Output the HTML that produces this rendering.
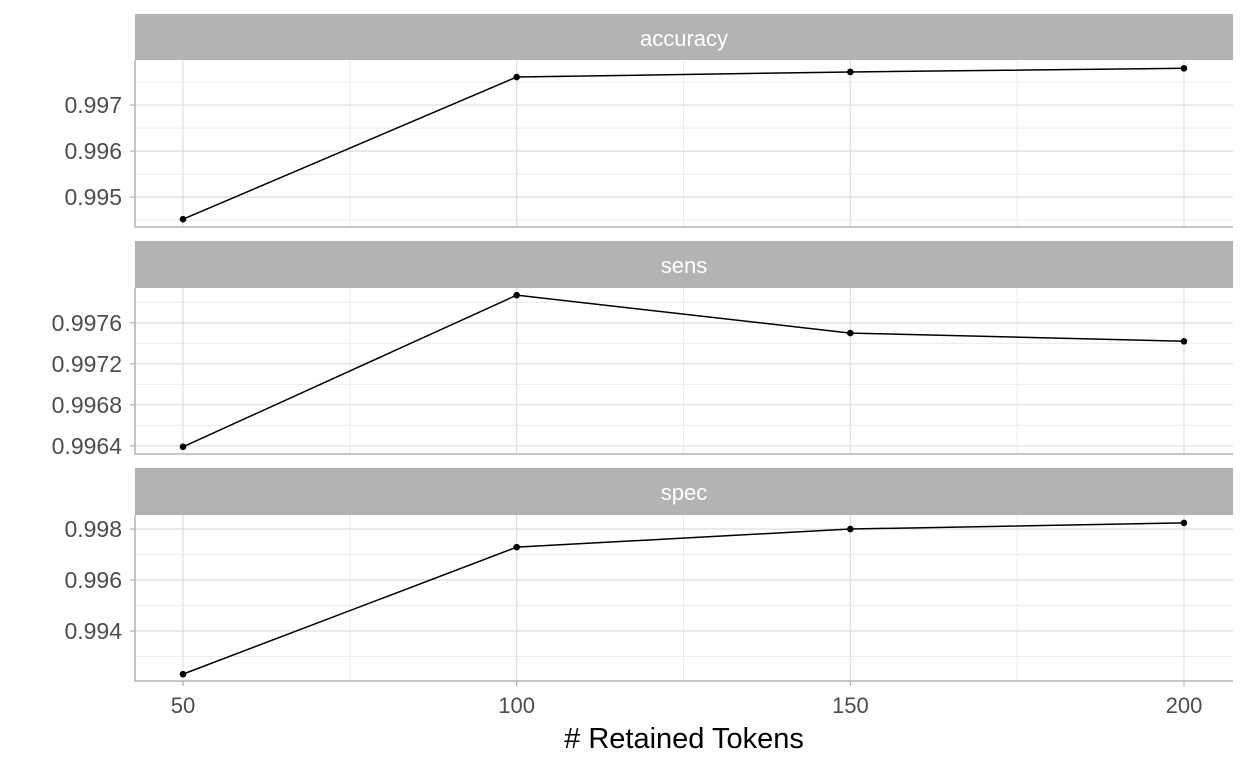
<!DOCTYPE html>
<html><head><meta charset="utf-8"><style>
html,body{margin:0;padding:0;background:#fff;}
svg{display:block;font-family:"Liberation Sans",Arial,sans-serif;}
</style></head><body>
<svg id="chart" width="1248" height="768"></svg>
<script>
const xValues = [50, 100, 150, 200];
const panelNames = ["accuracy", "sens", "spec"];
const accuracyValues = [0.99452, 0.99761, 0.99772, 0.9978];
const sensValues = [0.99639, 0.99787, 0.9975, 0.99742];
const specValues = [0.99231, 0.99729, 0.998, 0.99824];
const accuracyTicks = [0.995, 0.996, 0.997];
const sensTicks = [0.9964, 0.9968, 0.9972, 0.9976];
const specTicks = [0.994, 0.996, 0.998];
const xTicks = [50, 100, 150, 200];

const NS = "http://www.w3.org/2000/svg";
const svg = document.getElementById("chart");
function mk(tag, attrs, parent) {
  const e = document.createElementNS(NS, tag);
  for (const k in attrs) e.setAttribute(k, attrs[k]);
  (parent || svg).appendChild(e);
  return e;
}
const X0 = 135, X1 = 1233;
const xScale = v => 183 + (v - 50) * (1184 - 183) / 150;
const panels = [
  {name: panelNames[0], vals: accuracyValues, ticks: accuracyTicks, dec: 3, stripTop: 14, top: 60, bot: 227, dmin: 0.99435, dmax: 0.99798},
  {name: panelNames[1], vals: sensValues, ticks: sensTicks, dec: 4, stripTop: 241, top: 288, bot: 454, dmin: 0.99632, dmax: 0.99794},
  {name: panelNames[2], vals: specValues, ticks: specTicks, dec: 3, stripTop: 468, top: 515, bot: 681, dmin: 0.99204, dmax: 0.99855}
];
panels.forEach((p, pi) => {
  const g = mk("g", {});
  
  
  const y = v => p.bot - (v - p.dmin) / (p.dmax - p.dmin) * (p.bot - p.top);
  const step = p.ticks[1] - p.ticks[0];
  for (let i = -1; i < p.ticks.length; i++) {
    const v = p.ticks[0] + step * (i + 0.5);
    const yy = y(v);
    if (yy > p.top && yy < p.bot) mk("line", {x1: X0, x2: X1, y1: yy, y2: yy, stroke: "#ececec", "stroke-width": 1}, g);
  }
  [75, 125, 175].forEach(v => mk("line", {x1: xScale(v), x2: xScale(v), y1: p.top, y2: p.bot, stroke: "#ececec", "stroke-width": 1}, g));
  p.ticks.forEach(v => {
    mk("line", {x1: X0, x2: X1, y1: y(v), y2: y(v), stroke: "#dedede", "stroke-width": 1.2}, g);
    mk("line", {x1: X0 - 5, x2: X0, y1: y(v), y2: y(v), stroke: "#b3b3b3", "stroke-width": 1.2}, g);
    const t = mk("text", {x: X0 - 13, y: y(v) + 8, "text-anchor": "end", "font-size": 23, fill: "#4d4d4d"}, g);
    t.textContent = v.toFixed(p.dec);
    
    
  });
  xTicks.forEach(v => mk("line", {x1: xScale(v), x2: xScale(v), y1: p.top, y2: p.bot, stroke: "#dedede", "stroke-width": 1.2}, g));
  mk("path", {d: `M${X0},${p.top}V${p.bot}H${X1}`, fill: "none", stroke: "#b3b3b3", "stroke-width": 1.5}, g);
  const s = mk("rect", {x: X0, y: p.stripTop, width: X1 - X0, height: p.top - p.stripTop, fill: "#b3b3b3"}, g);
  
  
  const st = mk("text", {x: (X0 + X1) / 2, y: p.stripTop + 32, "text-anchor": "middle", "font-size": 22, fill: "#fff"}, g);
  st.textContent = p.name;
  
  
  const ln = mk("polyline", {points: xValues.map((v, i) => xScale(v) + "," + y(p.vals[i])).join(" "), fill: "none", stroke: "#000", "stroke-width": 1.5}, g);
  
  
  xValues.forEach((v, i) => {
    const c = mk("circle", {cx: xScale(v), cy: y(p.vals[i]), r: 3.3, fill: "#000"}, g);
    
    
  });
});
xTicks.forEach(v => {
  mk("line", {x1: xScale(v), x2: xScale(v), y1: 681, y2: 686, stroke: "#b3b3b3", "stroke-width": 1.2});
  const t = mk("text", {x: xScale(v), y: 713, "text-anchor": "middle", "font-size": 22, fill: "#4d4d4d"});
  t.textContent = v;
  
  
});
const xt = mk("text", {x: (X0 + X1) / 2, y: 748, "text-anchor": "middle", "font-size": 29, fill: "#000"});
xt.textContent = "# Retained Tokens";


</script>
</body></html>
